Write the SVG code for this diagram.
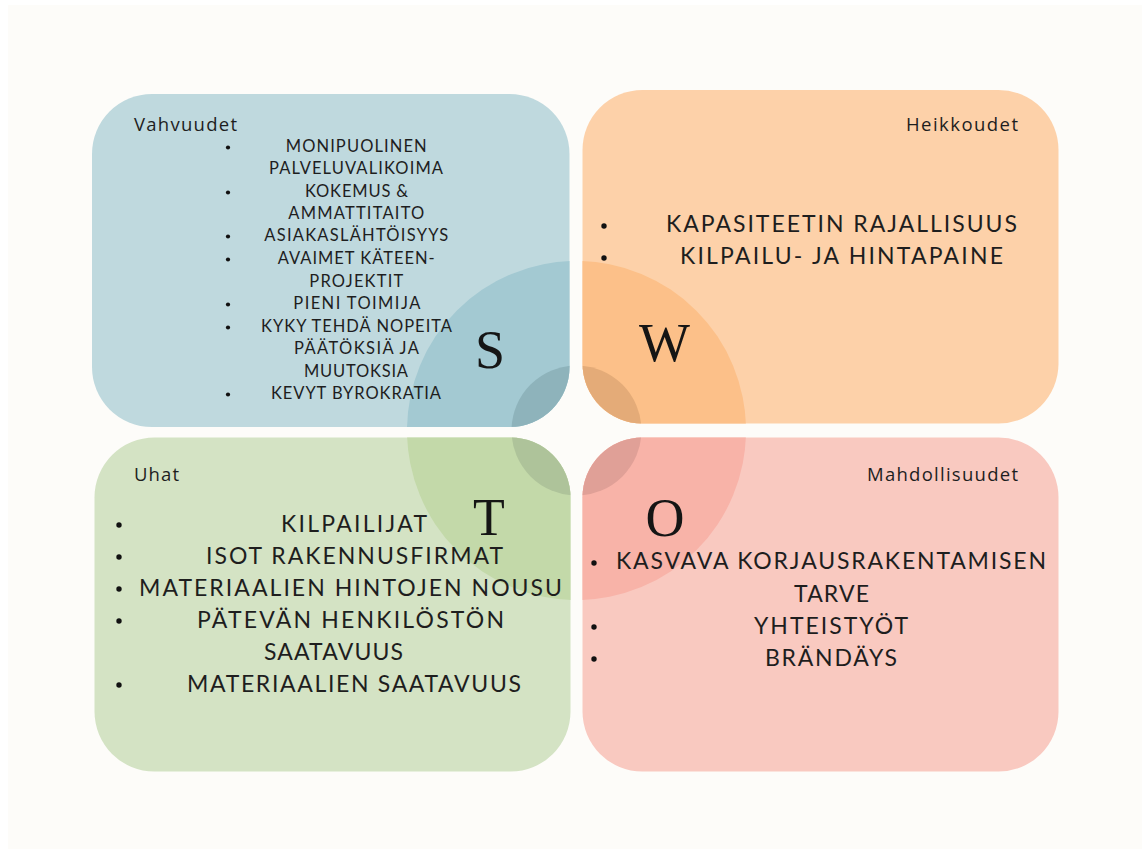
<svg xmlns="http://www.w3.org/2000/svg" width="1142" height="849" viewBox="0 0 1142 849">
<style>
.hd{font-family:"Open Sans","Liberation Sans",sans-serif;font-size:18.5px;fill:#1e1e1e}
.it{font-family:Lato,"Liberation Sans",sans-serif;fill:#1e1e1e}
.sm{font-size:16.5px}
.lg{font-size:23px}
.big{font-family:"Liberation Serif",serif;font-size:54px;fill:#151515;text-anchor:middle}
.dot{fill:#111}
</style>
<defs>
<clipPath id="cS"><rect x="92" y="94" width="477.5" height="333" rx="60"/></clipPath>
<clipPath id="cW"><rect x="582.5" y="90" width="476" height="333.5" rx="60"/></clipPath>
<clipPath id="cT"><rect x="94.5" y="437.5" width="476" height="334" rx="60"/></clipPath>
<clipPath id="cO"><rect x="582.5" y="437.5" width="476" height="334" rx="60"/></clipPath>
</defs>
<rect width="1142" height="849" fill="#ffffff"/>
<rect x="8" y="5" width="1134" height="844" fill="#fdfcf9"/>

<g id="strengths">
<rect x="92" y="94" width="477.5" height="333" rx="60" fill="#bfd9de"/>
<g clip-path="url(#cS)">
<circle cx="576.5" cy="430.5" r="169.5" fill="#a3c9d2"/>
<circle cx="576.5" cy="430.5" r="65" fill="#8eb3bb"/>
</g>
<text class="hd" x="134" y="131" textLength="103">Vahvuudet</text>
<g class="it sm">
<text x="285.7" y="151.7" textLength="141">MONIPUOLINEN</text>
<text x="269" y="174" textLength="174">PALVELUVALIKOIMA</text>
<text x="305" y="197" textLength="103">KOKEMUS &amp;</text>
<text x="288.3" y="219" textLength="136">AMMATTITAITO</text>
<text x="264.3" y="241" textLength="184">ASIAKASLÄHTÖISYYS</text>
<text x="277.7" y="264" textLength="157">AVAIMET KÄTEEN-</text>
<text x="309.3" y="287" textLength="94">PROJEKTIT</text>
<text x="293.3" y="309" textLength="127">PIENI TOIMIJA</text>
<text x="261" y="332" textLength="191">KYKY TEHDÄ NOPEITA</text>
<text x="294" y="354" textLength="125">PÄÄTÖKSIÄ JA</text>
<text x="304" y="377" textLength="104">MUUTOKSIA</text>
<text x="271" y="399" textLength="170">KEVYT BYROKRATIA</text>
</g>
<g class="dot">
<circle cx="228" cy="147.5" r="2.1"/>
<circle cx="228" cy="192.5" r="2.1"/>
<circle cx="228" cy="236.5" r="2.1"/>
<circle cx="228" cy="259.5" r="2.1"/>
<circle cx="228" cy="304.5" r="2.1"/>
<circle cx="228" cy="327.5" r="2.1"/>
<circle cx="228" cy="394.5" r="2.1"/>
</g>
<text class="big" x="490" y="368">S</text>
</g>

<g id="weaknesses">
<rect x="582.5" y="90" width="476" height="333.5" rx="60" fill="#fdd1a9"/>
<g clip-path="url(#cW)">
<circle cx="576.5" cy="430.5" r="169.5" fill="#fcc089"/>
<circle cx="576.5" cy="430.5" r="65" fill="#e4ab78"/>
</g>
<text class="hd" x="906" y="131" textLength="112">Heikkoudet</text>
<g class="it lg">
<text x="666" y="232" textLength="351">KAPASITEETIN RAJALLISUUS</text>
<text x="680" y="264" textLength="323">KILPAILU- JA HINTAPAINE</text>
</g>
<g class="dot">
<circle cx="604" cy="226" r="2.7"/>
<circle cx="604" cy="258" r="2.7"/>
</g>
<text class="big" x="664.5" y="361">W</text>
</g>

<g id="threats">
<rect x="94.5" y="437.5" width="476" height="334" rx="60" fill="#d4e3c4"/>
<g clip-path="url(#cT)">
<circle cx="576.5" cy="430.5" r="169.5" fill="#c3d9a9"/>
<circle cx="576.5" cy="430.5" r="65" fill="#aec39a"/>
</g>
<text class="hd" x="134" y="481" textLength="45">Uhat</text>
<g class="it lg">
<text x="281" y="532" textLength="146">KILPAILIJAT</text>
<text x="206" y="564" textLength="297">ISOT RAKENNUSFIRMAT</text>
<text x="139" y="596" textLength="423">MATERIAALIEN HINTOJEN NOUSU</text>
<text x="197" y="628" textLength="307">PÄTEVÄN HENKILÖSTÖN</text>
<text x="264" y="660" textLength="139">SAATAVUUS</text>
<text x="187" y="692" textLength="334">MATERIAALIEN SAATAVUUS</text>
</g>
<g class="dot">
<circle cx="119" cy="525" r="2.7"/>
<circle cx="119" cy="557" r="2.7"/>
<circle cx="119" cy="589" r="2.7"/>
<circle cx="119" cy="621" r="2.7"/>
<circle cx="119" cy="685" r="2.7"/>
</g>
<text class="big" x="489" y="535" style="font-size:52px">T</text>
</g>

<g id="opportunities">
<rect x="582.5" y="437.5" width="476" height="334" rx="60" fill="#f9c9c0"/>
<g clip-path="url(#cO)">
<circle cx="576.5" cy="430.5" r="169.5" fill="#f8b3a8"/>
<circle cx="576.5" cy="430.5" r="65" fill="#e0a097"/>
</g>
<text class="hd" x="867" y="481" textLength="151">Mahdollisuudet</text>
<g class="it lg">
<text x="616" y="569" textLength="430">KASVAVA KORJAUSRAKENTAMISEN</text>
<text x="794" y="602" textLength="75">TARVE</text>
<text x="754" y="634" textLength="154">YHTEISTYÖT</text>
<text x="765" y="666" textLength="132">BRÄNDÄYS</text>
</g>
<g class="dot">
<circle cx="594" cy="563" r="2.7"/>
<circle cx="594" cy="627" r="2.7"/>
<circle cx="594" cy="659" r="2.7"/>
</g>
<text class="big" x="665" y="536">O</text>
</g>

<g id="connectors"/>
</svg>
